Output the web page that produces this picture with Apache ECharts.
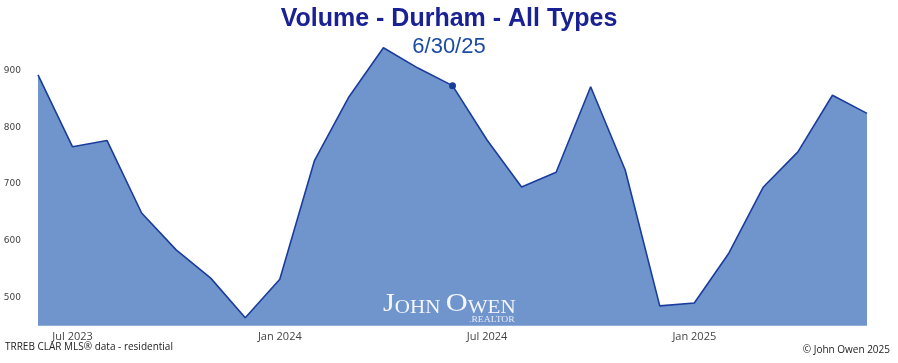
<!DOCTYPE html>
<html>
<head>
<meta charset="utf-8">
<script src="https://cdn.jsdelivr.net/npm/echarts@6/dist/echarts.min.js"></script>
<style>html,body{margin:0;padding:0;background:#fff;}#c{width:898px;height:363px;}</style>
</head>
<body>
<div id="c"></div>
<script>
const categories = ['Jun 2023','Jul 2023','Aug 2023','Sep 2023','Oct 2023','Nov 2023','Dec 2023',
  'Jan 2024','Feb 2024','Mar 2024','Apr 2024','May 2024','Jun 2024','Jul 2024','Aug 2024','Sep 2024',
  'Oct 2024','Nov 2024','Dec 2024','Jan 2025','Feb 2025','Mar 2025','Apr 2025','May 2025','Jun 2025'];
const volume = [893,766,777,649,584,534,464,532,741,854,941,905,874,778,695,721,872,725,485,490,578,695,757,857,825];
const tickLabels = ['Jul 2023','Jan 2024','Jul 2024','Jan 2025'];
const markedMonth = 'Jun 2024';

const chart = echarts.init(document.getElementById('c'), null, {renderer:'canvas'});
const markedIdx = categories.indexOf(markedMonth);
chart.setOption({
  animation:false,
  backgroundColor:'#ffffff',
  title:[
    {text:'Volume - Durham - All Types', left:'center', top:2,
     textStyle:{fontFamily:'Liberation Sans', fontWeight:'bold', fontSize:25, color:'#1a2194'}},
    {text:'6/30/25', left:'center', top:31,
     textStyle:{fontFamily:'Liberation Sans', fontWeight:'normal', fontSize:22, color:'#1d4da3'}}
  ],
  grid:{left:38, right:31, top:42.6, bottom:37.3, containLabel:false},
  xAxis:{
    type:'category', data:categories, boundaryGap:false,
    axisLine:{show:false}, axisTick:{show:false}, splitLine:{show:false},
    axisLabel:{
      interval:(i,v)=>tickLabels.indexOf(v)>=0,
      fontFamily:'Open Sans', fontSize:11, color:'#444', margin:6
    }
  },
  yAxis:{
    type:'value', min:450, max:950, interval:50,
    axisLine:{show:false}, axisTick:{show:false}, splitLine:{show:false},
    axisLabel:{
      formatter:v=> (v%100===0 ? String(v) : ''),
      fontFamily:'DejaVu Sans', fontSize:9, color:'#444', margin:17
    }
  },
  series:[{
    type:'line', data:volume.map((v,i)=> i===markedIdx ? {value:v, symbol:'circle', symbolSize:7} : v),
    symbol:'none', showSymbol:true,
    lineStyle:{color:'#1a3d9c', width:1.6},
    itemStyle:{color:'#1a3d9c'},
    areaStyle:{color:'#7094cc', opacity:1},
    z:2
  }],
  graphic:[
    {type:'text', left:5, top:342, style:{text:'TRREB CLAR MLS\u00ae data - residential', font:'10px "Open Sans"', fill:'#222'}},
    {type:'text', right:8, top:345, style:{text:'\u00a9 John Owen 2025', font:'10px "Open Sans"', fill:'#222'}},
    {type:'text', left:383, top:291, scaleX:1.17, z:10, style:{
      text:'{b|J}{s|OHN }{b|O}{s|WEN}', fill:'#ffffff',
      rich:{
        b:{fontFamily:'Liberation Serif', fontSize:26, fill:'#f4f6fb', verticalAlign:'bottom'},
        s:{fontFamily:'Liberation Serif', fontSize:18, fill:'#f4f6fb', verticalAlign:'bottom'}
      }
    }},
    {type:'text', left:469, top:315, scaleX:1.07, z:10, style:{text:'.REALTOR', font:'9px "Liberation Serif"', fill:'#e8ecf5'}}
  ]
});
</script>
</body>
</html>
